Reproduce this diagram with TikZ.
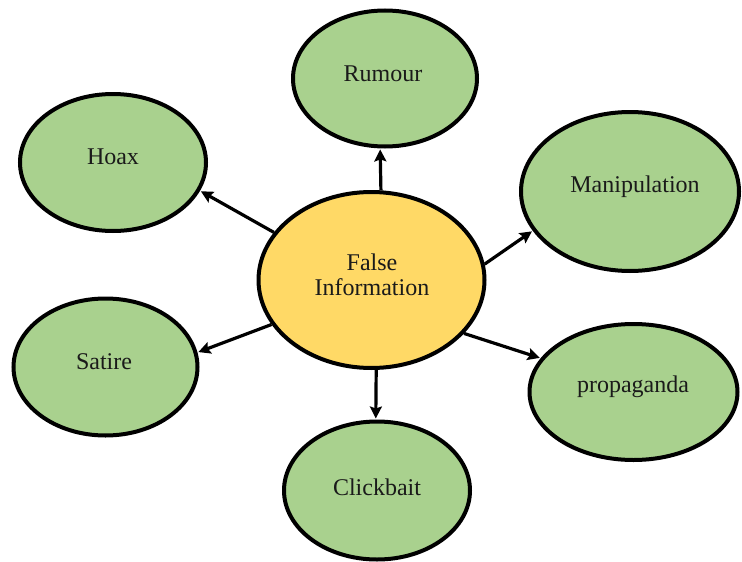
\documentclass[tikz,border=0pt]{standalone}
\usepackage{fontspec}
\setmainfont{Liberation Serif}
\usetikzlibrary{shapes.geometric,arrows.meta}
\definecolor{leaf}{HTML}{A9D18E}
\definecolor{gold}{HTML}{FFD966}
\definecolor{ink}{HTML}{1A1A1A}
\tikzset{
  bubble/.style={ellipse, draw=black, line width=4pt, inner sep=0pt, fill=leaf},
  core/.style={bubble, fill=gold},
  tag/.style={font=\fontsize{24}{25}\selectfont, text=ink, align=center, inner sep=0pt},
  link/.style={line width=3.2pt, -{Stealth[length=12pt,width=12pt,inset=2pt]}, shorten >=1pt}
}
\begin{document}
\begin{tikzpicture}[x=1pt,y=-1pt]
\useasboundingbox (0,0) rectangle (742,562);
\node[core, minimum width=226pt, minimum height=176pt] (fi) at (371.5,280) {};
\node[bubble, minimum width=184pt, minimum height=136pt] (rumour) at (385,78.5) {};
\node[bubble, minimum width=186pt, minimum height=137pt] (hoax) at (113,162.5) {};
\node[bubble, minimum width=184pt, minimum height=137pt] (satire) at (105.5,367) {};
\node[bubble, minimum width=218pt, minimum height=159pt] (manip) at (630,191.5) {};
\node[bubble, minimum width=208pt, minimum height=136pt] (prop) at (633.5,392) {};
\node[bubble, minimum width=186pt, minimum height=138pt] (click) at (377,490.5) {};

\node[tag] (tfi) at (372,275) {False\\Information};
\node[tag] (trumour) at (383,74) {Rumour};
\node[tag] (thoax) at (113,157) {Hoax};
\node[tag] (tsatire) at (104,362) {Satire};
\node[tag] (tmanip) at (635,187) {Manipulation};
\node[tag] (tprop) at (633,387) {propaganda};
\node[tag] (tclick) at (377,487) {Clickbait};

\draw[link] (fi.84) -- (rumour.266);
\draw[link] (fi.154) -- (hoax.-18.6);
\draw[link] (fi.204) -- (satire.9.9);
\draw[link] (fi.8.3) -- (manip.202.4);
\draw[link] (fi.-30.9) -- (prop.160.9);
\draw[link] (fi.-87) -- (click.91);
\end{tikzpicture}
\end{document}
